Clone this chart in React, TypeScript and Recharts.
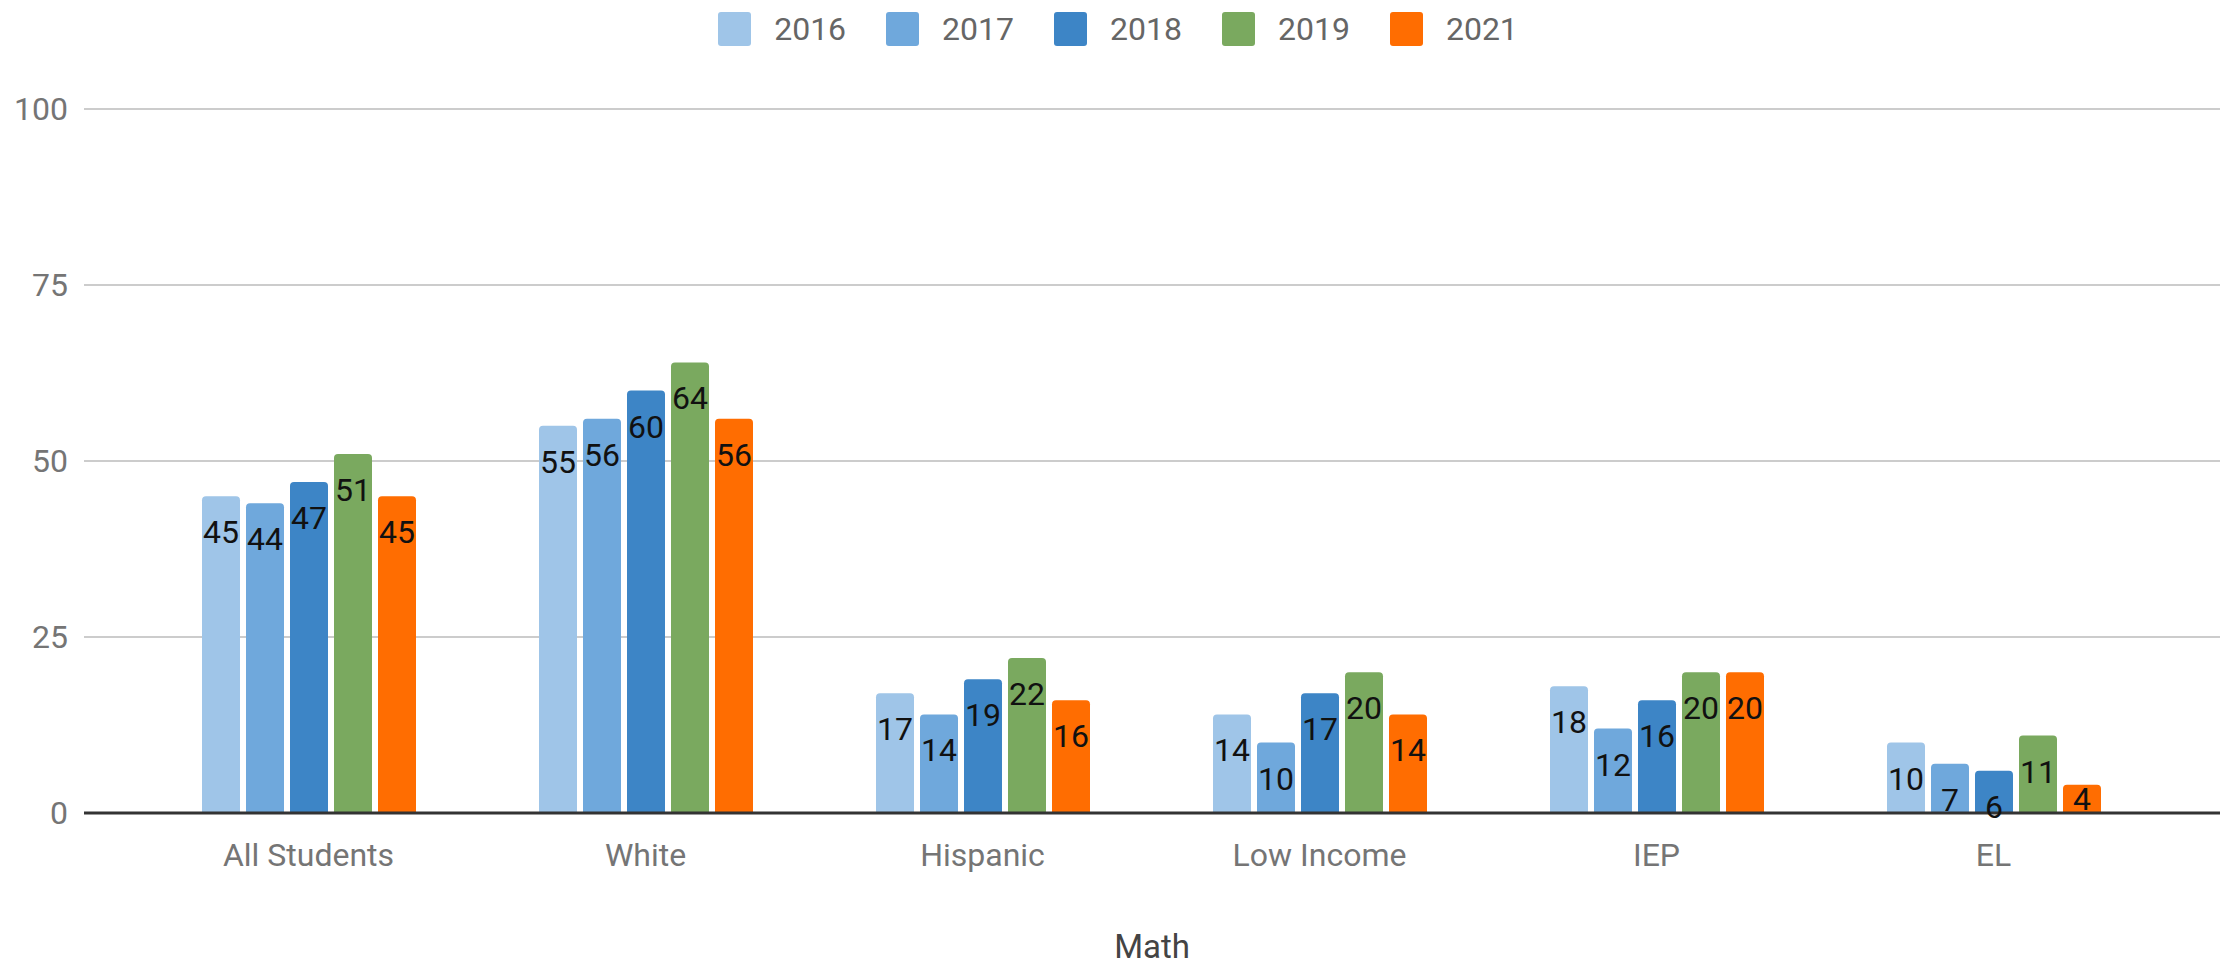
import React from 'react';
import { BarChart, Bar, XAxis, YAxis, CartesianGrid, Legend, LabelList } from 'recharts';

const groups = ['All Students', 'White', 'Hispanic', 'Low Income', 'IEP', 'EL'];
const years = ['2016', '2017', '2018', '2019', '2021'];

const y2016 = [45, 55, 17, 14, 18, 10];
const y2017 = [44, 56, 14, 10, 12, 7];
const y2018 = [47, 60, 19, 17, 16, 6];
const y2019 = [51, 64, 22, 20, 20, 11];
const y2021 = [45, 56, 16, 14, 20, 4];

const yTicks = [0, 25, 50, 75, 100];

const COLORS: Record<string, string> = {
  '2016': '#9fc5e8',
  '2017': '#6fa8dc',
  '2018': '#3d85c6',
  '2019': '#7aa95f',
  '2021': '#ff6d01',
};

const series = [y2016, y2017, y2018, y2019, y2021];

const data = groups.map((name, i) => {
  const row: Record<string, string | number> = { name };
  years.forEach((yr, k) => {
    row[yr] = series[k][i];
  });
  return row;
});

const FONT = 'Roboto, sans-serif';

const TopLegend = () => (
  <div
    style={{
      display: 'flex',
      justifyContent: 'center',
      alignItems: 'center',
      fontFamily: FONT,
      fontSize: 32,
      color: '#666',
      height: 40,
      gap: 40,
    }}
  >
    {years.map((yr) => (
      <div key={yr} style={{ display: 'flex', alignItems: 'center' }}>
        <span
          style={{
            display: 'inline-block',
            width: 33,
            height: 34,
            borderRadius: 3,
            background: COLORS[yr],
            marginRight: 23,
          }}
        />
        <span>{yr}</span>
      </div>
    ))}
  </div>
);

// value label sits near the top of the bar; short bars get it centred
const BarValue = (props: any) => {
  const { x, y, width, height, value } = props;
  const cy = height < 30 ? y + height / 2 : y + 36;
  return (
    <text
      x={x + width / 2}
      y={cy}
      textAnchor="middle"
      dominantBaseline="central"
      fill="#111"
      fontSize={32}
      fontFamily={FONT}
    >
      {value}
    </text>
  );
};

export default function App() {
  return (
    <div style={{ position: 'absolute', left: 0, top: 0, background: '#fff' }}>
      <BarChart
        width={2236}
        height={966}
        data={data}
        margin={{ top: 69, right: 16, bottom: 0, left: 0 }}
        barGap={6}
        barSize={38}
      >
        <CartesianGrid vertical={false} stroke="#cccccc" strokeWidth={2} />
        <XAxis
          dataKey="name"
          height={153}
          axisLine={{ stroke: '#333', strokeWidth: 3 }}
          tickLine={false}
          tickSize={0}
          tickMargin={30}
          padding={{ left: 56, right: 58 }}
          tick={{ fill: '#757575', fontSize: 32, fontFamily: FONT }}
          label={{
            value: 'Math',
            position: 'insideBottom',
            offset: 8,
            fill: '#444',
            fontSize: 33,
            fontFamily: FONT,
          }}
        />
        <YAxis
          width={84}
          domain={[0, 100]}
          ticks={yTicks}
          axisLine={false}
          tickLine={false}
          tickSize={0}
          tickMargin={16}
          tick={{ fill: '#757575', fontSize: 32, fontFamily: FONT }}
        />
        <Legend
          verticalAlign="top"
          content={() => <TopLegend />}
          wrapperStyle={{ top: 9, left: 0, width: 2236 }}
        />
        {years.map((yr) => (
          <Bar
            key={yr}
            dataKey={yr}
            fill={COLORS[yr]}
            radius={[4, 4, 0, 0]}
            isAnimationActive={false}
          >
            <LabelList dataKey={yr} content={<BarValue />} />
          </Bar>
        ))}
      </BarChart>
    </div>
  );
}
